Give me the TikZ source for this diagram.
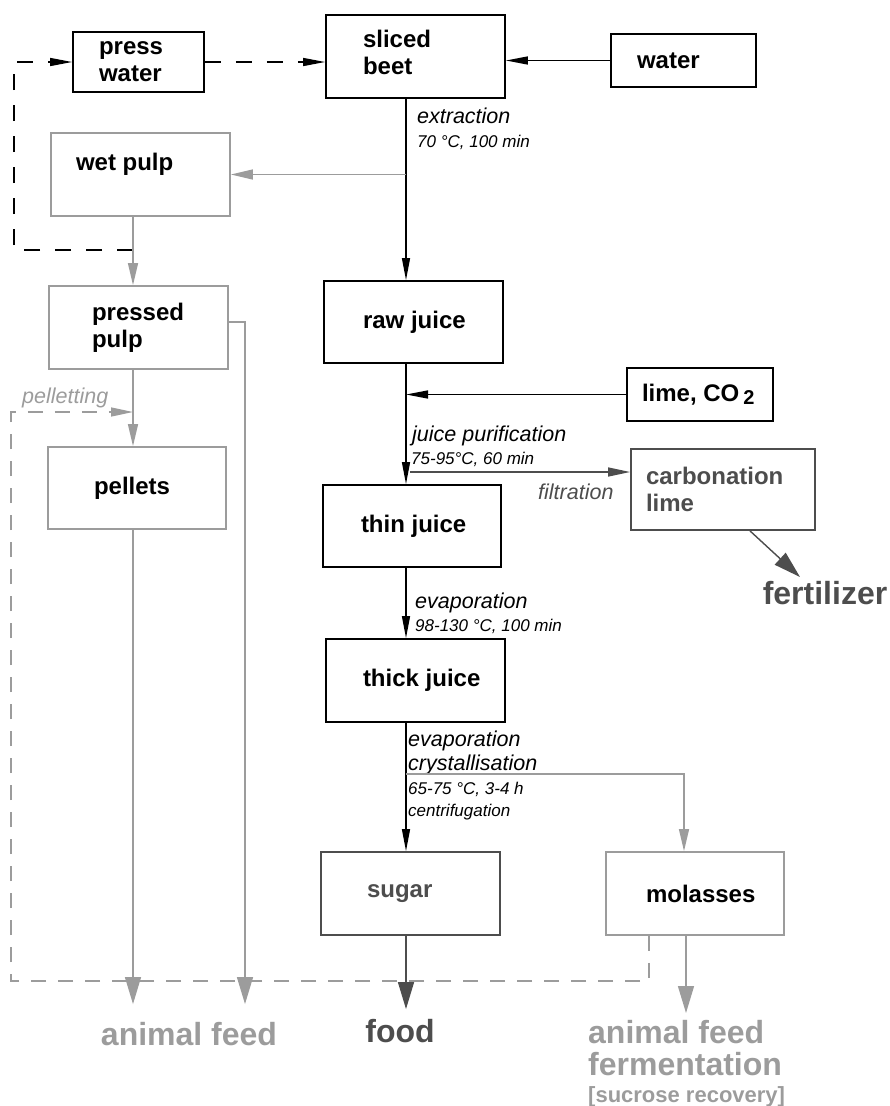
\documentclass[tikz,border=0pt]{standalone}
\usepackage{fontspec}
\setmainfont{Liberation Sans}
\usepackage{tikz}
\usetikzlibrary{arrows.meta,calc}

\definecolor{lgray}{HTML}{9C9C9C}
\definecolor{dgray}{HTML}{4D4D4D}

\newcommand{\boxfont}{\fontsize{24}{27}\selectfont\bfseries}
\newcommand{\stepfont}{\fontsize{21.5}{24}\selectfont\itshape}
\newcommand{\condfont}{\fontsize{17}{20}\selectfont\itshape}
\newcommand{\outfont}{\fontsize{32}{32}\selectfont\bfseries}

\tikzset{
  proc/.style={draw=black, line width=1.8pt, inner sep=0pt, align=flush left, font=\boxfont},
  gproc/.style={proc, draw=lgray},
  dproc/.style={proc, draw=dgray, text=dgray},
  boxsize/.style 2 args={minimum width=#1pt, text width=#1pt, minimum height=#2pt},
  textindent/.style={execute at begin node={\leftskip=#1pt\relax}},
  flow/.style={line width=1.4pt, -{Triangle[length=22pt,width=8pt]}},
  gflow/.style={line width=1.4pt, lgray, -{Triangle[length=22pt,width=10pt]}},
  outflow/.style={line width=1.4pt, -{Triangle[length=27pt,width=16pt]}},
  recycle/.style={line width=1.4pt, dash pattern=on 16pt off 15pt, -{Triangle[length=22pt,width=8pt]}},
  grecycle/.style={line width=1.4pt, lgray, dash pattern=on 15pt off 12pt, -{Triangle[length=22pt,width=9pt]}},
  note/.style={anchor=base west, inner sep=0pt, font=\stepfont},
  cond/.style={anchor=base west, inner sep=0pt, font=\condfont},
  product/.style={inner sep=0pt, font=\outfont}
}

\begin{document}
\begin{tikzpicture}[x=1pt,y=-1pt]
\useasboundingbox (0,0) rectangle (890,1106);

\node[proc, boxsize={131}{60}, textindent=26] (press) at (138.5,62) {press\\water};
\node[proc, boxsize={179}{83}, textindent=37, text depth=36pt] (beet) at (415.5,56.5) {sliced\\beet};
\node[proc, boxsize={145}{53}, textindent=26] (water) at (683.5,60.5) {water};
\node[gproc, boxsize={179}{83}, textindent=25, text depth=25pt] (wet) at (140.5,174.5) {wet pulp};
\node[gproc, boxsize={179}{83}, textindent=43] (pressed) at (138.5,327.5) {pressed\\pulp};
\node[gproc, boxsize={178}{82}, textindent=46] (pellets) at (137,488) {pellets};
\node[proc, boxsize={179}{82}, textindent=39] (raw) at (413.5,322) {raw juice};
\node[proc, boxsize={146}{53}, textindent=15] (lime) at (700,394.5) {lime, CO\,{\fontsize{20}{20}\selectfont\raisebox{-3pt}{2}}};
\node[dproc, boxsize={184}{81}, textindent=15] (carb) at (723,489.5) {carbonation\\lime};
\node[proc, boxsize={178}{82}, textindent=38] (thin) at (412,526) {thin juice};
\node[proc, boxsize={179}{83}, textindent=37] (thick) at (415.5,680.5) {thick juice};
\node[dproc, boxsize={179}{83}, textindent=46] (sugar) at (410.5,893.5) {sugar};
\node[gproc, boxsize={178}{83}, textindent=40] (molasses) at (695,893.5) {molasses};

\node[product, lgray] (feed) at (189,1034) {animal feed};
\node[product, dgray] (food) at (400,1031) {food};
\node[product, dgray] (fert) at (825,593) {fertilizer};
\node[product, lgray, anchor=north west, align=flush left, text width=240pt] (feedmol) at (588,1020)
  {animal feed\\fermentation\\[-5pt]{\fontsize{22}{27}\selectfont [sucrose recovery]}};

\node[note] (ex1) at (417,123) {extraction};
\node[cond] (ex2) at (417,147) {70 °C, 100 min};
\node[note] (jp1) at (412,441) {juice purification};
\node[cond] (jp2) at (411,464) {75-95°C, 60 min};
\node[note, text=dgray] (filtr) at (538,499) {filtration};
\node[note] (ev1) at (415,608) {evaporation};
\node[cond] (ev2) at (415,631) {98-130 °C, 100 min};
\node[note] (cr1) at (408,746) {evaporation};
\node[note] (cr2) at (408,770) {crystallisation};
\node[cond] (cr3) at (408,794) {65-75 °C, 3-4 h};
\node[cond] (cr4) at (408,816) {centrifugation};
\node[note, text=lgray] (pel1) at (22,403) {pelletting};

\coordinate (col) at (406,0);
\coordinate (pcol) at (133,0);
\coordinate (side) at (245,322);
\coordinate (ret) at (14,250);
\coordinate (pel) at (11,412);
\coordinate (fb) at (11,981);
\coordinate (mfb) at (649,981);
\coordinate (mbr) at (684,774);
\coordinate (mcol) at (686,0);
\coordinate (filt) at (410,472);
\coordinate (ftail) at (750,0);
\coordinate (fhead) at (800,577);

\draw[grecycle] (molasses.south -| mfb) -- (mfb) -- (fb) -- (pel) -- (pel -| pcol);

\draw[flow] (water.west) -- (water.west -| beet.east);
\draw[recycle] (press.east) -- (press.east -| beet.west);
\draw[recycle] (pcol |- ret) -- (ret) -- (ret |- press.west) -- (press.west);

\draw[flow] (beet.south -| col) -- (raw.north -| col);
\draw[gflow] (wet.east -| col) -- (wet.east);
\draw[gflow] (wet.south -| pcol) -- (pressed.north -| pcol);
\draw[gflow] (pressed.south -| pcol) -- (pellets.north -| pcol);

\draw[flow] (raw.south -| col) -- (thin.north -| col);
\draw[flow] (lime.west) -- (lime.west -| col);
\draw[line width=1.4pt, dgray, -{Triangle[length=22pt,width=9pt]}] (filt) -- (filt -| carb.west);
\draw[outflow, dgray] (carb.south -| ftail) -- (fhead);

\draw[flow] (thin.south -| col) -- (thick.north -| col);
\draw[flow] (thick.south -| col) -- (sugar.north -| col);
\draw[gflow] (col |- mbr) -- (mbr) -- (mbr |- molasses.north);

\draw[outflow, lgray, shorten >=18pt] (pellets.south -| pcol) -- (pcol |- feed.north);
\draw[outflow, lgray, shorten >=18pt] (pressed.east |- side) -- (side) -- (side |- feed.north);
\draw[outflow, dgray, shorten >=10pt] (sugar.south -| col) -- (col |- food.north);
\draw[outflow, lgray, shorten >=7pt] (molasses.south -| mcol) -- (mcol |- feedmol.north);
\end{tikzpicture}
\end{document}
